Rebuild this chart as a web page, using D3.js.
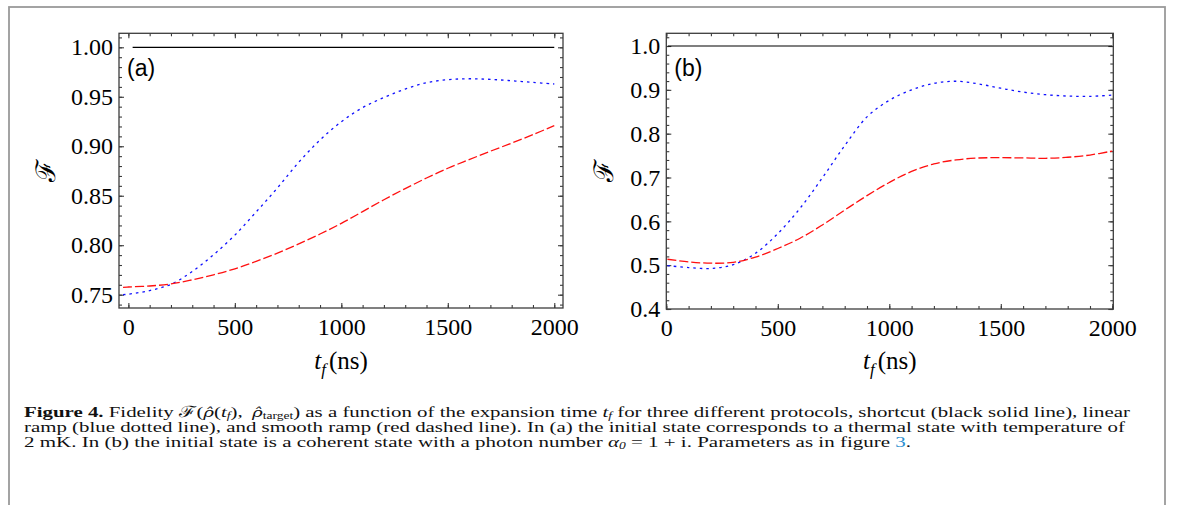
<!DOCTYPE html>
<html>
<head>
<meta charset="utf-8">
<script src="https://cdn.jsdelivr.net/npm/d3@7"></script>
<style>
  body { margin: 0; background: #fff; }
  svg { display: block; }
  .tick text { font-family: "Liberation Serif", "Times New Roman", serif; font-size: 24px; fill: #000; }
  .tick line { stroke: #3c3c3c; stroke-width: 1.1; }
  .cap { font-family: "Liberation Serif", "Times New Roman", serif; font-size: 15.5px; fill: #111; }
</style>
</head>
<body>
<div id="chart"></div>
<script>
// Panel (a): thermal state, panel (b): coherent state
const tA = [-25, 0, 100, 200, 300, 400, 500, 600, 700, 800, 900, 1000, 1100, 1200, 1300, 1400, 1500, 1600, 1700, 1800, 1900, 2000];
const linearA = [0.750, 0.7505, 0.7542, 0.7605, 0.7735, 0.7904, 0.8102, 0.8336, 0.8579, 0.8838, 0.9063, 0.9248, 0.9390, 0.9493, 0.9578, 0.9642, 0.9673, 0.9682, 0.9676, 0.9662, 0.9645, 0.9629];
const smoothA = [0.7575, 0.7578, 0.7588, 0.7609, 0.7650, 0.7701, 0.7762, 0.7837, 0.7920, 0.8013, 0.8113, 0.8221, 0.8340, 0.8460, 0.8572, 0.8679, 0.8778, 0.8865, 0.8950, 0.9032, 0.9118, 0.9208];
const tShortA = [20, 2000];
const shortcutA = [1, 1];

const tB = [5, 100, 200, 300, 400, 500, 600, 700, 800, 900, 1000, 1100, 1200, 1300, 1400, 1500, 1600, 1700, 1800, 1900, 2000];
const linearB = [0.499, 0.4945, 0.4925, 0.5010, 0.527, 0.572, 0.630, 0.6994, 0.7727, 0.8383, 0.8762, 0.8998, 0.9148, 0.9196, 0.9135, 0.9037, 0.8949, 0.8890, 0.8858, 0.8852, 0.8880];
const smoothB = [0.5135, 0.5075, 0.5045, 0.5065, 0.5185, 0.5380, 0.5615, 0.5918, 0.6257, 0.6587, 0.6887, 0.7139, 0.7311, 0.7403, 0.7445, 0.7452, 0.7447, 0.7438, 0.7462, 0.7513, 0.7604];
const tShortB = [7, 2000];
const shortcutB = [1, 1];

const xMajor = [0, 500, 1000, 1500, 2000];
const xMinor = d3.range(0, 2001, 100);
const yMajorA = [0.75, 0.80, 0.85, 0.90, 0.95, 1.00];
const yMinorA = d3.range(74, 102).map(v => v / 100);
const yMajorB = [0.4, 0.5, 0.6, 0.7, 0.8, 0.9, 1.0];
const yMinorB = d3.range(20, 52).map(v => v / 50);

const W = 1182, H = 505;
const svg = d3.select('#chart').append('svg')
    .attr('width', W).attr('height', H);

// outer figure box
svg.append('rect')
   .attr('x', 9).attr('y', 7).attr('width', 1156).attr('height', 520)
   .attr('fill', 'none').attr('stroke', '#9a9a9a').attr('stroke-width', 1.8);

drawPanel({
    left: 119, right: 563, top: 33.3, bottom: 308,
    xDomain: [-44, 2041], yDomain: [0.73656, 1.01415],
    yMajor: yMajorA, yMinor: yMinorA, yFmt: d3.format('.2f'),
    t: tA, linear: linearA, smooth: smoothA, tShort: tShortA, shortcut: shortcutA,
    tag: '(a)', titleX: 46
});
drawPanel({
    left: 666.3, right: 1113.3, top: 33.3, bottom: 309,
    xDomain: [0, 2004.5], yDomain: [0.4, 1.029],
    yMajor: yMajorB, yMinor: yMinorB, yFmt: d3.format('.1f'),
    t: tB, linear: linearB, smooth: smoothB, tShort: tShortB, shortcut: shortcutB,
    tag: '(b)', titleX: 604
});

function drawPanel(p) {
    const g = svg.append('g');
    const x = d3.scaleLinear().domain(p.xDomain).range([p.left, p.right]);
    const y = d3.scaleLinear().domain(p.yDomain).range([p.bottom, p.top]);
    const yMin = p.yMinor.filter(v => v >= p.yDomain[0] && v <= p.yDomain[1]);

    // ticks on all four sides, pointing inward
    const axes = [
        [d3.axisBottom(x).tickValues(xMajor).tickSize(-5).tickPadding(10).tickFormat(d3.format('d')), `translate(0,${p.bottom})`],
        [d3.axisBottom(x).tickValues(xMinor).tickSize(-3).tickFormat(''), `translate(0,${p.bottom})`],
        [d3.axisTop(x).tickValues(xMajor).tickSize(-5).tickFormat(''), `translate(0,${p.top})`],
        [d3.axisTop(x).tickValues(xMinor).tickSize(-3).tickFormat(''), `translate(0,${p.top})`],
        [d3.axisLeft(y).tickValues(p.yMajor).tickSize(-5).tickPadding(6).tickFormat(p.yFmt), `translate(${p.left},0)`],
        [d3.axisLeft(y).tickValues(yMin).tickSize(-3).tickFormat(''), `translate(${p.left},0)`],
        [d3.axisRight(y).tickValues(p.yMajor).tickSize(-5).tickFormat(''), `translate(${p.right},0)`],
        [d3.axisRight(y).tickValues(yMin).tickSize(-3).tickFormat(''), `translate(${p.right},0)`]
    ];
    axes.forEach(([ax, tr]) => {
        const a = g.append('g').attr('transform', tr).call(ax);
        a.select('.domain').remove();
    });

    g.append('rect')
     .attr('x', p.left).attr('y', p.top)
     .attr('width', p.right - p.left).attr('height', p.bottom - p.top)
     .attr('fill', 'none').attr('stroke', '#3c3c3c').attr('stroke-width', 1.3);

    const line = d3.line()
        .x(d => x(d[0])).y(d => y(d[1]))
        .curve(d3.curveCatmullRom.alpha(0.5));

    g.append('path')
     .attr('d', line(d3.zip(p.tShort, p.shortcut)))
     .attr('fill', 'none').attr('stroke', '#000').attr('stroke-width', 1.2);
    g.append('path')
     .attr('d', line(d3.zip(p.t, p.linear)))
     .attr('fill', 'none').attr('stroke', '#1010ff').attr('stroke-width', 1.3)
     .attr('stroke-dasharray', '2.5,4');
    g.append('path')
     .attr('d', line(d3.zip(p.t, p.smooth)))
     .attr('fill', 'none').attr('stroke', '#ff1010').attr('stroke-width', 1.3)
     .attr('stroke-dasharray', '9,3');

    g.append('text')
     .attr('x', p.left + 8).attr('y', 76)
     .style('font-family', '"Liberation Sans", Arial, sans-serif')
     .style('font-size', '23px')
     .text(p.tag);

    // axis titles
    const cx = (p.left + p.right) / 2;
    const xt = g.append('text')
     .attr('x', cx).attr('y', 369)
     .attr('text-anchor', 'middle')
     .style('font-family', '"Liberation Serif", "Times New Roman", serif')
     .style('font-size', '25px');
    xt.append('tspan').style('font-style', 'italic').text('t');
    xt.append('tspan').style('font-style', 'italic').style('font-size', '17px').attr('dy', 6).text('f');
    xt.append('tspan').attr('dy', -6).attr('dx', 3).text('(ns)');

    g.append('text')
     .attr('transform', `translate(${p.titleX},${(p.top + p.bottom) / 2}) rotate(-90)`)
     .attr('text-anchor', 'middle')
     .attr('dy', '0.35em')
     .style('font-family', '"DejaVu Serif", serif')
     .style('font-size', '27px')
     .text('\u2131');
}

// caption
const capLines = [
    { y: 416.7, len: 1106, parts: [
        ['Figure 4.', 'b'], [' Fidelity ', ''], ['\u2131(', 'n'], ['\u03C1\u0302', 'hat'], ['(', 'n'], ['t', 'i'], ['f', 'sub'],
        ['), \u2009', 'up'], ['\u03C1\u0302', 'hat'], ['target', 'subr'], [')', 'up'],
        [' as a function of the expansion time ', ''], ['t', 'i'], ['f', 'sub'],
        [' for three different protocols, shortcut (black solid line), linear', 'up']
    ]},
    { y: 431.7, len: 1101, parts: [
        ['ramp (blue dotted line), and smooth ramp (red dashed line). In (a) the initial state corresponds to a thermal state with temperature of', '']
    ]},
    { y: 446.7, len: 887, parts: [
        ['2 mK. In (b) the initial state is a coherent state with a photon number ', ''], ['\u03B1', 'i'], ['0', 'sub'],
        [' = 1 + i. Parameters as in figure ', 'up'], ['3', 'link'], ['.', '']
    ]}
];
capLines.forEach(l => {
    const t = svg.append('text').attr('class', 'cap')
        .attr('x', 24).attr('y', l.y)
        .attr('textLength', l.len).attr('lengthAdjust', 'spacingAndGlyphs');
    l.parts.forEach(([s, k]) => {
        const sp = t.append('tspan').text(s);
        if (k === 'b') sp.style('font-weight', 'bold');
        if (k === 'i') sp.style('font-style', 'italic');
        if (k === 'hat') sp.style('font-family', '"DejaVu Serif", serif').style('font-size', '13.5px').style('font-style', 'italic');
        if (k === 'sub') sp.style('font-style', 'italic').style('font-size', '10px').attr('dy', 2.5);
        if (k === 'subr') sp.style('font-size', '10px').attr('dy', 2.5);
        if (k === 'up') sp.attr('dy', -2.5);
        if (k === 'link') sp.style('fill', '#2b8fd0');
    });
});
</script>
</body>
</html>
